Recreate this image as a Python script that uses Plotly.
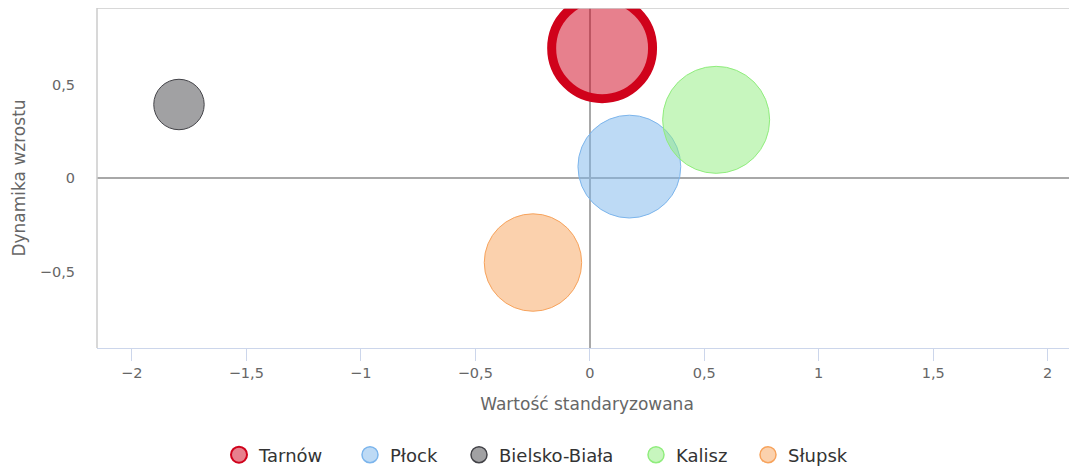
import plotly.graph_objects as go

# ---- data ----
cities = ["Tarnów", "Płock", "Bielsko-Biała", "Kalisz", "Słupsk"]
x_std = [0.054, 0.173, -1.794, 0.552, -0.248]        # Wartość standaryzowana
y_dyn = [0.695, 0.062, 0.394, 0.312, -0.451]         # Dynamika wzrostu
z_size = [10.4, 10.8, 2.6, 11.7, 9.7]                # bubble size value

x_tickvals = [-2, -1.5, -1, -0.5, 0, 0.5, 1, 1.5, 2]
x_ticktext = ["−2", "−1,5", "−1", "−0,5", "0", "0,5", "1", "1,5", "2"]
y_tickvals = [-0.5, 0, 0.5]
y_ticktext = ["−0,5", "0", "0,5"]

# ---- styles ----
line_colors = ["#d0021b", "#7cb5ec", "#434348", "#90ed7d", "#f7a35c"]
fill_colors = ["rgba(208,2,27,0.5)", "rgba(124,181,236,0.5)", "rgba(67,67,72,0.5)",
               "rgba(144,237,125,0.5)", "rgba(247,163,92,0.5)"]
line_widths = [9, 1, 1, 1, 1]
legend_line_widths = [2, 1.5, 1.5, 1.5, 1.5]
legend_symbol_centers = [239, 370, 479, 656, 768]   # screen px

PAGE_OFF = 8  # body margin of the html page
W, H = 1077 - PAGE_OFF, 468 - PAGE_OFF
ML, MR, MT = 97 - PAGE_OFF, 0, 8 - PAGE_OFF
PW = W - ML - MR
PH = 340
MB = H - MT - PH

max_diam = 107
sizeref = 2.0 * max(z_size) / (max_diam ** 2)

FONT = "DejaVu Sans"

fig = go.Figure()
for i, name in enumerate(cities):
    grp = f"g{i}"
    fig.add_trace(go.Scatter(
        x=[x_std[i]], y=[y_dyn[i]], mode="markers", name=name,
        legendgroup=grp, showlegend=False,
        marker=dict(size=[z_size[i]], sizemode="area", sizeref=sizeref,
                    color=fill_colors[i], opacity=1,
                    line=dict(color=line_colors[i], width=line_widths[i])),
        cliponaxis=True,
    ))
    # legend entry
    fig.add_trace(go.Scatter(
        x=[None], y=[None], mode="markers", name=name,
        legendgroup=grp, showlegend=True,
        legend="legend" if i == 0 else f"legend{i+1}",
        marker=dict(size=16, color=fill_colors[i], opacity=1,
                    line=dict(color=line_colors[i], width=legend_line_widths[i])),
    ))

layout_legends = {}
for i in range(len(cities)):
    key = "legend" if i == 0 else f"legend{i+1}"
    xpx = legend_symbol_centers[i] - PAGE_OFF - 20 - ML
    layout_legends[key] = dict(
        x=xpx / PW, xanchor="left",
        y=(MT + PH - (455 - PAGE_OFF)) / PH, yanchor="middle",
        orientation="h", bgcolor="rgba(0,0,0,0)", borderwidth=0,
        font=dict(family=FONT, size=18, color="#333333"),
    )

fig.update_layout(
    width=W, height=H,
    margin=dict(l=ML, r=MR, t=MT, b=MB, autoexpand=False),
    paper_bgcolor="white", plot_bgcolor="white",
    font=dict(family=FONT, color="#666666"),
    xaxis=dict(
        range=[-2.152, 2.128], tickvals=x_tickvals, ticktext=x_ticktext,
        showgrid=False, zeroline=True, zerolinecolor="#a8a8a8", zerolinewidth=2,
        showline=True, linecolor="#ccd6eb", linewidth=1,
        ticks="outside", ticklen=12, tickcolor="#ccd6eb", tickwidth=1,
        tickfont=dict(family=FONT, size=14.5, color="#666666"),
        title=dict(text="Wartość standaryzowana", standoff=17,
                   font=dict(family=FONT, size=17, color="#666666")),
        fixedrange=True,
    ),
    yaxis=dict(
        range=[-0.908, 0.91], tickvals=y_tickvals, ticktext=y_ticktext,
        showgrid=False, zeroline=True, zerolinecolor="#a8a8a8", zerolinewidth=2,
        showline=False, ticks="", ticklabelstandoff=21,
        tickfont=dict(family=FONT, size=14.5, color="#666666"),
        title=dict(text="Dynamika wzrostu", standoff=9,
                   font=dict(family=FONT, size=17, color="#666666")),
        fixedrange=True,
    ),
    shapes=[dict(type="path", xref="paper", yref="paper",
                 path="M 0,0 L 0,1 L 1,1",
                 line=dict(color="#cccccc", width=1.5), layer="above")],
    showlegend=True,
    **layout_legends,
)

fig.write_html("out.html")
